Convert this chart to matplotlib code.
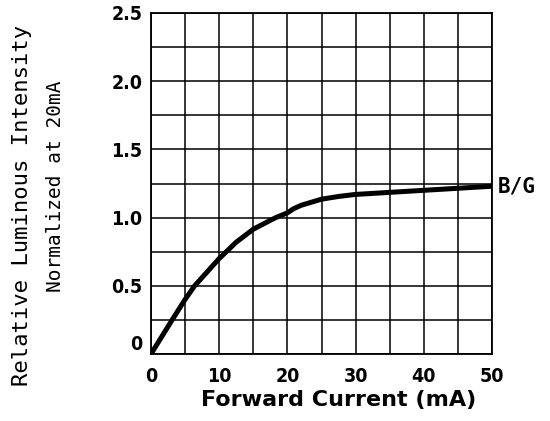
import matplotlib
matplotlib.use("Agg")
import matplotlib.pyplot as plt
import numpy as np

# values
current = [0, 3.1, 5, 6.4, 10, 12.5, 15, 17.5, 18.3, 20, 20.9, 22,
           25, 27.5, 30, 35, 40, 45, 50]
intensity = [0, 0.25, 0.40, 0.50, 0.70, 0.82, 0.915, 0.98, 1.0, 1.035,
             1.065, 1.09, 1.135, 1.155, 1.17, 1.185, 1.20, 1.215, 1.23]

xticks = [0, 10, 20, 30, 40, 50]
yticks = [0, 0.5, 1.0, 1.5, 2.0, 2.5]
ytick_labels = ["0", "0.5", "1.0", "1.5", "2.0", "2.5"]

fig = plt.figure(figsize=(5.5, 4.21), dpi=100)
ax = fig.add_axes([151/550, 1 - 354/421, 341/550, 341/421])

ax.plot(current, intensity, color="black", lw=3.6, solid_joinstyle="round",
        solid_capstyle="butt")

ax.set_xlim(0, 50)
ax.set_ylim(0, 2.5)
ax.set_xticks(np.arange(0, 50.1, 5))
ax.set_yticks(np.arange(0, 2.51, 0.25))
ax.grid(True, color="black", lw=1.1)
ax.set_xticklabels([str(v) if v in xticks else "" for v in np.arange(0, 51, 5)])
ax.set_yticklabels([ytick_labels[yticks.index(v)] if v in yticks else ""
                    for v in np.round(np.arange(0, 2.51, 0.25), 2)])
ax.tick_params(length=0, labelsize=14, pad=6)
ax.tick_params(axis="x", pad=9)
for lab in ax.get_xticklabels() + ax.get_yticklabels():
    lab.set_fontfamily("DejaVu Sans")
    lab.set_fontweight("bold")
    lab.set_fontstretch("condensed")
ax.get_yticklabels()[0].set_verticalalignment("bottom")
for s in ax.spines.values():
    s.set_linewidth(1.3)

fig.text(339/550, 1 - 400/421, "Forward Current (mA)", ha="center",
         va="center", fontsize=16, fontweight="bold")

fig.text(22/550, 1 - 205/421, "Relative Luminous Intensity", rotation=90,
         ha="center", va="center", fontsize=16, family="DejaVu Sans Mono")
fig.text(56/550, 1 - 186/421, "Normalized at 20mA", rotation=90,
         ha="center", va="center", fontsize=14, family="DejaVu Sans Mono")
ax.text(50.8, 1.23, "B/G", ha="left", va="center", fontsize=15,
        family="DejaVu Sans Mono", fontweight="bold", clip_on=False)

fig.savefig("out.png", dpi=100)
